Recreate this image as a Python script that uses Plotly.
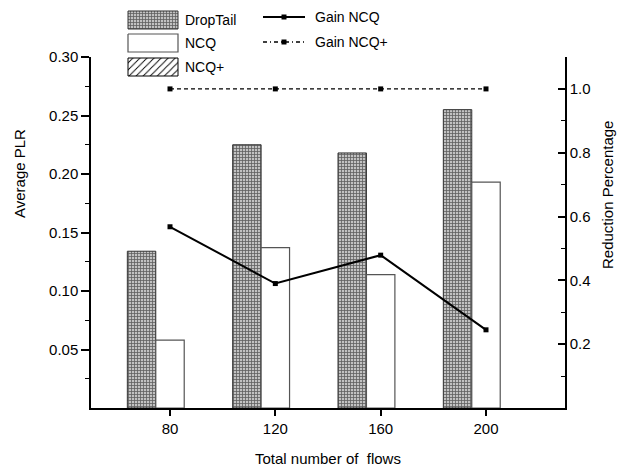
import plotly.graph_objects as go

# Average packet loss ratio per queueing scheme
flows = [80, 120, 160, 200]
droptail = [0.134, 0.225, 0.218, 0.255]
ncq = [0.058, 0.137, 0.114, 0.193]
ncq_plus = [0.0, 0.0, 0.0, 0.0]

# Reduction percentage relative to DropTail
gain_ncq = [0.568, 0.390, 0.479, 0.245]
gain_ncq_plus = [1.0, 1.0, 1.0, 1.0]

plr_ticks = [0.05, 0.10, 0.15, 0.20, 0.25, 0.30]
plr_minor = [0.025, 0.075, 0.125, 0.175, 0.225, 0.275]
red_ticks = [0.2, 0.4, 0.6, 0.8, 1.0]
red_minor = [0.1, 0.3, 0.5, 0.7, 0.9, 1.1]

W, H = 631, 473
FONT = "Liberation Sans, Arial, sans-serif"

# plot-area edges in pixels
PX_L, PX_R, PX_T, PX_B = 91, 565, 57, 408

grid_pattern = dict(shape="+", fgcolor="#5e5e5e", bgcolor="#c2c2c2",
                    size=3, solidity=0.45, fillmode="replace")
hatch_pattern = dict(shape="/", fgcolor="#000000", bgcolor="#ffffff",
                     size=5, solidity=0.18, fillmode="replace")

fig = go.Figure()

fig.add_trace(go.Bar(x=flows, y=droptail, name="DropTail", showlegend=False,
                     marker=dict(color="#c2c2c2", pattern=grid_pattern,
                                 line=dict(color="#333333", width=1))))
fig.add_trace(go.Bar(x=flows, y=ncq, name="NCQ", showlegend=False,
                     marker=dict(color="#ffffff",
                                 line=dict(color="#555555", width=1.2))))
fig.add_trace(go.Bar(x=flows, y=ncq_plus, name="NCQ+", showlegend=False,
                     marker=dict(color="#ffffff", pattern=hatch_pattern,
                                 line=dict(color="#000000", width=0))))

fig.add_trace(go.Scatter(x=flows, y=gain_ncq, yaxis="y2", name="Gain NCQ",
                         mode="lines+markers", showlegend=False,
                         line=dict(color="#000000", width=2),
                         marker=dict(symbol="square", size=5, color="#000000")))
fig.add_trace(go.Scatter(x=flows, y=gain_ncq_plus, yaxis="y2", name="Gain NCQ+",
                         mode="lines+markers", showlegend=False,
                         line=dict(color="#000000", width=1.3, dash="4px,3px"),
                         marker=dict(symbol="square", size=5, color="#000000")))

# Legend drawn on a full-figure overlay axis in pixel units
def box(x0, y0, x1, y1):
    return [x0, x1, x1, x0, x0], [y0, y0, y1, y1, y0]

LX0, LX1 = 128, 178
rows = [("DropTail", 11, 29), ("NCQ", 34, 52), ("NCQ+", 58, 76)]
swatch_style = {
    "DropTail": dict(fillcolor="#c2c2c2", fillpattern=grid_pattern, line=dict(color="#333333", width=1)),
    "NCQ": dict(fillcolor="#ffffff", line=dict(color="#555555", width=1.2)),
    "NCQ+": dict(fillcolor="#ffffff", fillpattern=hatch_pattern, line=dict(color="#000000", width=1)),
}
for label, y0, y1 in rows:
    bx, by = box(LX0, y0, LX1, y1)
    fig.add_trace(go.Scatter(x=bx, y=by, xaxis="x3", yaxis="y3", mode="lines",
                             fill="toself", showlegend=False, hoverinfo="skip",
                             **swatch_style[label]))

line_rows = [("Gain NCQ", 17, "solid", 2), ("Gain NCQ+", 42, "4px,3px,1px,3px", 1.3)]
for label, yy, dash, lw in line_rows:
    fig.add_trace(go.Scatter(x=[263, 284, 305], y=[yy, yy, yy], xaxis="x3", yaxis="y3",
                             mode="lines", showlegend=False, hoverinfo="skip",
                             line=dict(color="#000000", width=lw, dash=dash)))
    fig.add_trace(go.Scatter(x=[284], y=[yy], xaxis="x3", yaxis="y3",
                             mode="markers", showlegend=False, hoverinfo="skip",
                             marker=dict(symbol="square", size=5, color="#000000")))

annotations = []
for label, y0, y1 in rows:
    annotations.append(dict(text=label, x=183 / W, y=1 - (y0 + y1) / 2 / H,
                            xref="paper", yref="paper", xanchor="left", yanchor="middle",
                            showarrow=False, font=dict(size=14, color="#000000")))
for label, yy, _, _ in line_rows:
    annotations.append(dict(text=label, x=313 / W, y=1 - yy / H,
                            xref="paper", yref="paper", xanchor="left", yanchor="middle",
                            showarrow=False, font=dict(size=14, color="#000000")))

# axis titles
annotations.append(dict(text="Total number of  flows", x=((PX_L + PX_R) / 2) / W, y=1 - 458 / H,
                        xref="paper", yref="paper", xanchor="center", yanchor="middle",
                        showarrow=False, font=dict(size=15, color="#000000")))
annotations.append(dict(text="Average PLR", x=20 / W, y=1 - 174 / H, textangle=-90,
                        xref="paper", yref="paper", xanchor="center", yanchor="middle",
                        showarrow=False, font=dict(size=15, color="#000000")))
annotations.append(dict(text="Reduction Percentage", x=607 / W, y=1 - 195 / H, textangle=-90,
                        xref="paper", yref="paper", xanchor="center", yanchor="middle",
                        showarrow=False, font=dict(size=15, color="#000000")))

x_dom = [PX_L / W, PX_R / W]
y_dom = [1 - PX_B / H, 1 - PX_T / H]

fig.update_layout(
    width=W, height=H,
    margin=dict(l=0, r=0, t=0, b=0, pad=0),
    paper_bgcolor="#ffffff",
    plot_bgcolor="rgba(0,0,0,0)",
    font=dict(family=FONT, size=15, color="#000000"),
    barmode="group", bargap=0.19, bargroupgap=0,
    showlegend=False,
    annotations=annotations,
    xaxis=dict(domain=x_dom, anchor="y", range=[50, 230], tickvals=flows,
               ticks="outside", ticklen=6, tickwidth=1.5, tickcolor="#000000",
               showline=True, linecolor="#000000", linewidth=1.5,
               showgrid=False, zeroline=False, automargin=False,
               tickfont=dict(size=15)),
    yaxis=dict(domain=y_dom, anchor="x", range=[0, 0.30], tickvals=plr_ticks,
               tickformat=".2f", ticks="outside", ticklen=8, tickwidth=1.5,
               tickcolor="#000000", showline=True, linecolor="#000000", linewidth=1.5,
               showgrid=False, zeroline=False, automargin=False,
               minor=dict(tickvals=plr_minor, ticks="outside", ticklen=4,
                          tickwidth=1.2, tickcolor="#000000", showgrid=False),
               tickfont=dict(size=15)),
    yaxis2=dict(overlaying="y", side="right", anchor="x", range=[0, 1.1],
                tickvals=red_ticks, tickformat=".1f", ticks="inside", ticklen=7,
                tickwidth=1.5, tickcolor="#000000", showline=True,
                linecolor="#000000", linewidth=1.5, showgrid=False, zeroline=False,
                automargin=False,
                minor=dict(tickvals=red_minor, ticks="inside", ticklen=4,
                           tickwidth=1.2, tickcolor="#000000", showgrid=False),
                tickfont=dict(size=15)),
    xaxis3=dict(domain=[0, 1], anchor="y3", range=[0, W], visible=False, fixedrange=True),
    yaxis3=dict(domain=[0, 1], anchor="x3", range=[H, 0], visible=False, fixedrange=True),
)

fig.write_html("out.html")
